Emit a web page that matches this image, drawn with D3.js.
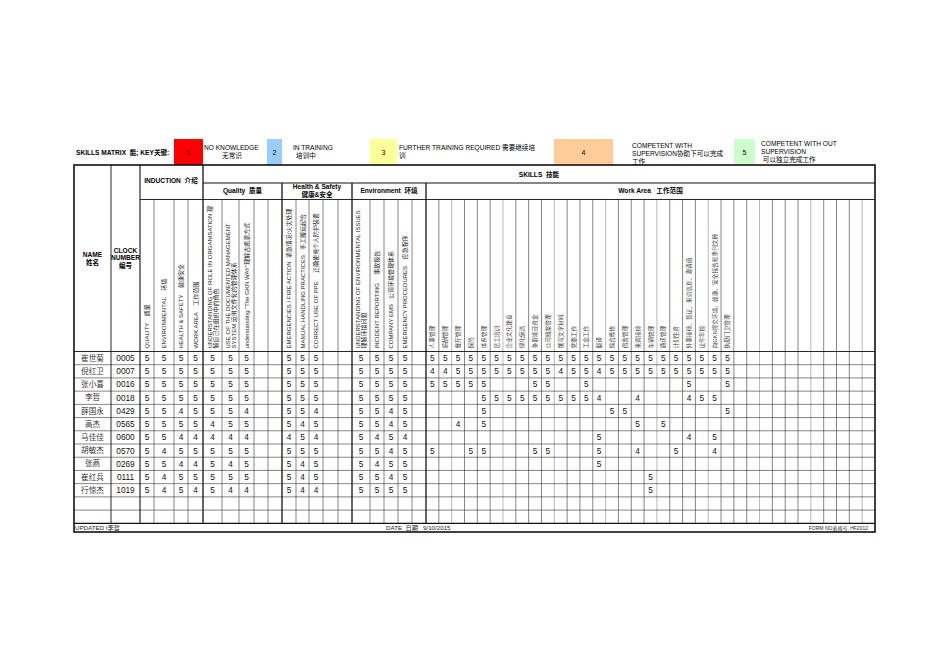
<!DOCTYPE html>
<html>
<head>
<meta charset="utf-8">
<script src="https://cdn.jsdelivr.net/npm/d3@7"></script>
<style>
body { margin: 0; background: #fff; }
svg { font-family: "Liberation Sans", Arial, "Noto Sans CJK SC", sans-serif; }
text { white-space: pre; }
</style>
</head>
<body>
<svg id="chart" width="950" height="672"></svg>
<script>
// ---- data ----
const names = ["崔世菊", "倪红卫", "张小喜", "李哲", "薛国永", "高杰", "马佳佳", "胡敏杰", "张燕", "崔红兵", "行惊杰"];
const clockNumbers = ["0005", "0007", "0016", "0018", "0429", "0565", "0600", "0570", "0269", "0111", "1019"];

const keyLevels = ["1", "2", "3", "4", "5"];
const keyTexts = [
	["NO KNOWLEDGE", "无常识"],
	["IN TRAINING", "培训中"],
	["FURTHER TRAINING REQUIRED 需要继续培", "训"],
	["COMPETENT WITH", "SUPERVISION协助下可以完成", "工作"],
	["COMPETENT WITH OUT", "SUPERVISION", " 可以独立完成工作"]
];

const groupTitles = [["INDUCTION  介绍"], ["Quality  质量"], ["Health & Safety", "健康&安全"], ["Environment  环境"], ["Work Area   工作范围"]];

const inductionLabels = [["QUALITY    质量"], ["ENVIRONMENTAL    环境"], ["HEALTH & SAFETY    健康安全"], ["WORK AREA    工作范围"]];
const qualityLabels = [["UNDERSTANDING OF ROLE IN ORGANISATION 理", "解自己在组织中的角色"], ["USE OF THE DOCUMENTED MANAGEMENT", "SYSTEM 运用文件化的管理体系"], ["understanding \"The GKN WAY\"理解古凯恩方式"], [], []];
const hsLabels = [["EMERGENCIES / FIRE ACTION  紧急情况/火灾处理"], ["MANUAL HANDLING PRACTICES   手工搬运起合"], ["CORRECT USE OF PPE     正确使用个人防护装置"], [], []];
const envLabels = [["UNDERSTANDING OF ENVIRONMENTAL ISSUES", "理解环境问题"], ["INCIDENT REPORTING     事故报告"], ["COMPANY EMS   公司环境管理体系"], ["EMERGENCY PROCEDURES    应急程序"], []];
const workLabels = ["人事管理", "薪酬管理", "餐厅管理", "保险", "体系管理", "员工培训", "企业文化建设", "绿化保洁", "争取项目资金", "公司档案管理",
	"撰写文字材料", "党委工作", "工会工作", "翻译", "综合维修", "宿舍管理", "来宾接待", "车辆管理", "通讯管理", "计划生育",
	"外事接待、签证、来访信息、邀请函", "证件年检", "向GKN提交环境、健康、安全报告和季刊文稿", "执勤门卫管理",
	"", "", "", "", "", "", "", "", "", "", ""];

// one string per person, "." = empty cell
const inductionScores = ["5555", "5555", "5555", "5555", "5545", "5555", "5544", "5455", "5544", "5455", "5454"];
const qualityScores = ["555..", "555..", "555..", "555..", "554..", "455..", "444..", "555..", "545..", "555..", "544.."];
const hsScores = ["555..", "555..", "555..", "555..", "554..", "545..", "454..", "555..", "545..", "545..", "544.."];
const envScores = ["5555.", "5555.", "5555.", "5555.", "5545.", "5545.", "5454.", "5545.", "5455.", "5545.", "5555."];
const workScores = [
	"555555555555555555555555",
	"445555555545545555555555",
	"55555...55..5.......5..5",
	"....5555555554..4...455.",
	"....5.........55.......5",
	"..4.5...........5.5.....",
	".............5......4.5.",
	"5..55...55...5..4..5..4.",
	".............5..........",
	".................5......",
	".................5......"
];

const updatedBy = "UPDATED I李哲";
const dateText = "DATE  日期   9/10/2015";
const formNo = "FORM NO表格号: HF2012";

// ---- layout ----
const keyFills = ["#ff0000", "#99ccff", "#ffff99", "#ffcc99", "#ccffcc"];
const keyBox = [[174, 203], [267, 282], [370, 397], [554, 613], [734, 755]];
const keyTextX = [204, 293, 399, 632, 761];

const L = 74, R = 875, TOP = 165, ROW1 = 183, ROW2 = 199.5, HDR = 351.5, FOOT = 523.3, BOTTOM = 532;
const nameX = [74, 111], clockX = [111, 140];
const groupEdges = [
	[140, 154, 174, 188, 203],
	[203, 222, 239, 254, 268, 282],
	[282, 296, 309, 323, 338, 352],
	[352, 370, 384, 398, 412, 426]
];
const workCols = 35;

const svg = d3.select("#chart");

// column scales (index -> x edge)
const xScales = groupEdges.map(e => d3.scaleLinear().domain(d3.range(e.length)).range(e));
xScales.push(d3.scaleLinear().domain([0, workCols]).range([426, R]));
const colCounts = [4, 5, 5, 5, workCols];

const rowCount = names.length + 2;
const y = d3.scaleBand().domain(d3.range(rowCount)).range([HDR, FOOT]);

// ---- key row ----
svg.append("text")
	.attr("x", 76).attr("y", 155)
	.attr("font-size", 6.6).attr("font-weight", "bold")
	.text("SKILLS MATRIX  能; KEY关键:");

const key = svg.append("g");
keyLevels.forEach((lv, i) => {
	const [x0, x1] = keyBox[i];
	key.append("rect").attr("x", x0).attr("y", 139).attr("width", x1 - x0).attr("height", 26).attr("fill", keyFills[i]);
	key.append("text").attr("x", (x0 + x1) / 2).attr("y", 155).attr("text-anchor", "middle")
		.attr("font-size", 7).text(lv);
});
const keyLineY = [[150, 158], [150, 158], [150, 158], [147.5, 155.5, 163.5], [145.5, 153.5, 161.5]];
keyTexts.forEach((lines, i) => {
	lines.forEach((t, j) => {
		const tx = key.append("text").attr("y", keyLineY[i][j]).attr("font-size", 6.6).text(t);
		if ((i == 0 || i == 1) && j == 1) {
			tx.attr("x", i == 0 ? 232 : 306).attr("text-anchor", "middle");
		} else {
			tx.attr("x", keyTextX[i]);
		}
	});
});

// ---- grid lines ----
const grid = svg.append("g").attr("fill", "none");
function hline(yy, x0, x1, w, c) {
	grid.append("line").attr("x1", x0).attr("x2", x1).attr("y1", yy).attr("y2", yy)
		.attr("stroke", c || "#111").attr("stroke-width", w || 0.7);
}
function vline(xx, y0, y1, w, c) {
	grid.append("line").attr("x1", xx).attr("x2", xx).attr("y1", y0).attr("y2", y1)
		.attr("stroke", c || "#111").attr("stroke-width", w || 0.7);
}

// inner columns
xScales.forEach((s, g) => {
	for (let i = 1; i < colCounts[g]; i++) {
		vline(s(i), ROW2, FOOT, 0.6, (g == 4 && i % 4 == 2) ? "#888" : "#333");
	}
});
// rows
d3.range(1, rowCount).forEach(r => hline(y(r), L, R, 0.6, "#333"));
hline(ROW1, 203, R, 1.1);
hline(ROW2, 140, R, 0.9);
hline(HDR, L, R, 0.9);
hline(FOOT, L, R, 1.2);
vline(nameX[1], TOP, FOOT, 0.9);
vline(140, TOP, FOOT, 1.1);
vline(203, TOP, FOOT, 1.3);
[282, 352, 426].forEach(xx => vline(xx, ROW1, FOOT, 1.3));
grid.append("rect").attr("x", L).attr("y", TOP).attr("width", R - L).attr("height", BOTTOM - TOP)
	.attr("stroke", "#111").attr("stroke-width", 1.6);

// ---- header texts ----
const hdr = svg.append("g").attr("font-weight", "bold").attr("text-anchor", "middle").attr("font-size", 6.6);
hdr.append("text").attr("x", 92.5).attr("y", 257).text("NAME");
hdr.append("text").attr("x", 92.5).attr("y", 265).text("姓名");
hdr.append("text").attr("x", 125.5).attr("y", 253).text("CLOCK");
hdr.append("text").attr("x", 125.5).attr("y", 260).text("NUMBER");
hdr.append("text").attr("x", 125.5).attr("y", 267.5).text("编号");
hdr.append("text").attr("x", 539).attr("y", 176.5).text("SKILLS  技能");

const titleY = [[182.5], [193], [189, 196.5], [193], [193]];
groupTitles.forEach((lines, g) => {
	const s = xScales[g];
	const cx = (s(0) + s(colCounts[g])) / 2;
	lines.forEach((t, j) => {
		hdr.append("text").attr("x", g == 0 ? 171 : cx).attr("y", titleY[g][j]).text(t);
	});
});

// vertical column labels
const vert = svg.append("g").attr("font-size", 6).attr("fill", "#222");
const allLabels = [inductionLabels, qualityLabels, hsLabels, envLabels, workLabels.map(t => t ? [t] : [])];
allLabels.forEach((labels, g) => {
	const s = xScales[g];
	labels.forEach((lines, i) => {
		const cx = (s(i) + s(i + 1)) / 2;
		const n = lines.length;
		lines.forEach((t, j) => {
			const xx = cx + (j - (n - 1) / 2) * 5.8;
			vert.append("text")
				.attr("transform", `translate(${xx},348.5) rotate(-90)`)
				.attr("dy", "0.35em")
				.attr("font-size", g == 4 ? 5.7 : 6)
				.attr("fill", g == 4 ? "#444" : "#222")
				.text(t);
		});
	});
});

// ---- data cells ----
const body = svg.append("g").attr("font-size", 8.3).attr("text-anchor", "middle").attr("fill", "#111");
names.forEach((n, r) => {
	const cy = y(r) + y.bandwidth() / 2;
	body.append("text").attr("x", (nameX[0] + nameX[1]) / 2).attr("y", cy).attr("dy", "0.35em")
		.attr("font-family", "'Noto Sans CJK SC', sans-serif").attr("font-size", 7.6).attr("fill", "#333").text(n);
	body.append("text").attr("x", (clockX[0] + clockX[1]) / 2).attr("y", cy).attr("dy", "0.35em").text(clockNumbers[r]);
});

[inductionScores, qualityScores, hsScores, envScores, workScores].forEach((scores, g) => {
	const s = xScales[g];
	scores.forEach((row, r) => {
		row.split("").forEach((v, i) => {
			if (v == ".") return;
			body.append("text")
				.attr("x", (s(i) + s(i + 1)) / 2)
				.attr("y", y(r) + y.bandwidth() / 2)
				.attr("dy", "0.35em")
				.text(v);
		});
	});
});

// ---- footer ----
const foot = svg.append("g").attr("font-size", 6.2).attr("fill", "#222");
foot.append("text").attr("x", 75).attr("y", 530).text(updatedBy);
foot.append("text").attr("x", 386).attr("y", 530).text(dateText);
foot.append("text").attr("x", 868).attr("y", 530).attr("text-anchor", "end").attr("font-size", 5).text(formNo);
</script>
</body>
</html>
